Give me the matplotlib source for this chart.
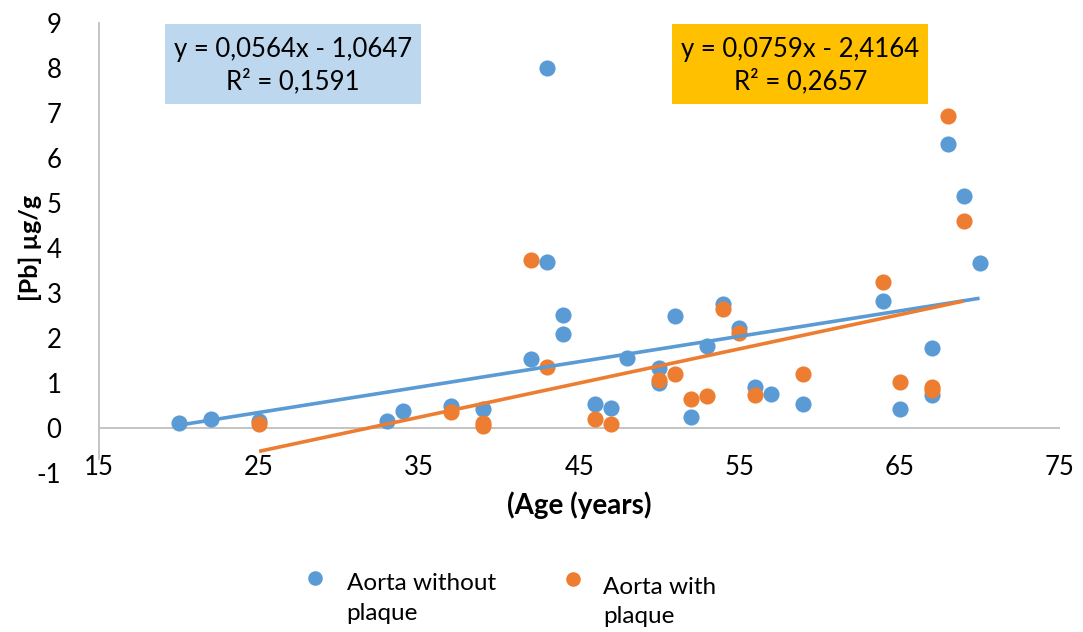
#!/usr/bin/env python3
"""Blood lead vs age in aorta samples, with and without plaque."""

import matplotlib
matplotlib.use("Agg")
import matplotlib.pyplot as plt
from matplotlib.lines import Line2D
from matplotlib.patches import Rectangle
import numpy as np

plt.rcParams["font.family"] = ["Lato", "DejaVu Sans"]
plt.rcParams["axes.unicode_minus"] = False

# aorta without plaque
age_clean = [20, 22, 25, 33, 34, 37, 39, 42, 43, 43, 44, 44, 46, 47, 48, 50, 50,
             51, 52, 53, 54, 55, 56, 57, 59, 64, 65, 67, 67, 68, 69, 70]
pb_clean = [0.10, 0.19, 0.15, 0.16, 0.38, 0.49, 0.42, 1.54, 8.00, 3.68, 2.50, 2.09,
            0.53, 0.44, 1.55, 1.33, 0.99, 2.49, 0.25, 1.83, 2.76, 2.23, 0.92, 0.76,
            0.53, 2.83, 0.42, 1.78, 0.73, 6.31, 5.16, 3.66]

# aorta with plaque
age_plaque = [25, 37, 39, 39, 42, 43, 46, 47, 50, 51, 52, 53, 54, 55, 56, 59, 64,
              65, 67, 67, 68, 69]
pb_plaque = [0.09, 0.36, 0.12, 0.05, 3.73, 1.35, 0.20, 0.09, 1.07, 1.20, 0.64, 0.70,
             2.64, 2.12, 0.73, 1.21, 3.25, 1.03, 0.92, 0.85, 6.94, 4.61]

# trendline coefficients as printed on the chart
fit_clean = (0.0564, -1.0647, 0.1591)
fit_plaque = (0.0759, -2.4164, 0.2657)

series_names = ["Aorta without\nplaque", "Aorta with\nplaque"]
x_ticks = [15, 25, 35, 45, 55, 65, 75]
y_ticks = list(range(-1, 10))

BLUE = "#5B9BD5"
ORANGE = "#ED7D31"


def fmt(v):
    return f"{v:.4f}".replace(".", ",")


def eq_text(fit):
    slope, icept, r2 = fit
    return f"y = {fmt(slope)}x - {fmt(abs(icept))}\nR² = {fmt(r2)}"


fig = plt.figure(figsize=(10.83, 6.32), dpi=100)
ax = fig.add_axes([0.0914, 0.2516, 0.887, 0.712])

ax.scatter(age_clean, pb_clean, s=135, color=BLUE, linewidths=0, zorder=3)
ax.scatter(age_plaque, pb_plaque, s=135, color=ORANGE, linewidths=0, zorder=4)

for ages, fit, col in [(age_clean, fit_clean, BLUE), (age_plaque, fit_plaque, ORANGE)]:
    xs = np.array([min(ages), max(ages)])
    ax.plot(xs, fit[0] * xs + fit[1], color=col, linewidth=2.6, zorder=5,
            solid_capstyle="butt")

ax.set_xlim(15, 75)
ax.set_ylim(-1, 9)
ax.axhline(0, color="#BFBFBF", linewidth=1.3, zorder=1)
ax.spines[["top", "right", "bottom"]].set_visible(False)
ax.spines["left"].set_color("#BFBFBF")
ax.spines["left"].set_linewidth(1.3)
ax.spines["left"].set_bounds(-0.68, 9)

ax.set_xticks(x_ticks)
ax.set_yticks(y_ticks)
ax.tick_params(axis="x", length=0, pad=-13, labelsize=18.5)
ax.tick_params(axis="y", length=0, pad=27, labelsize=18.5)

ax.set_xlabel("(Age (years)", fontsize=20, fontweight="bold", labelpad=8)
ax.set_ylabel("[Pb] µg/g", fontsize=18, fontweight="bold", labelpad=-4)

# trendline equation boxes
for (x0, x1, fill, fit) in [(0.0688, 0.3354, "#BDD7EE", fit_clean),
                            (0.597, 0.8635, "#FFC000", fit_plaque)]:
    ax.add_patch(Rectangle((x0, 0.82), x1 - x0, 0.178, transform=ax.transAxes,
                           facecolor=fill, edgecolor="none", zorder=6, clip_on=False))
    ax.text((x0 + x1) / 2, 0.905, eq_text(fit), transform=ax.transAxes,
            ha="center", va="center", fontsize=18.5, linespacing=1.32, zorder=7)

# legend drawn by hand to match the wrapped Excel layout
for (mx, my, tx, ty, col, name) in [(0.291, 0.0855, 0.320, 0.019, BLUE, series_names[0]),
                                    (0.529, 0.084, 0.557, 0.014, ORANGE, series_names[1])]:
    fig.add_artist(Line2D([mx], [my], marker="o", markersize=10.5, color=col,
                          markeredgewidth=0, transform=fig.transFigure))
    fig.text(tx, ty, name, fontsize=17.5, va="baseline", ha="left", linespacing=1.5)

fig.savefig("out.png", dpi=100)
plt.close(fig)
